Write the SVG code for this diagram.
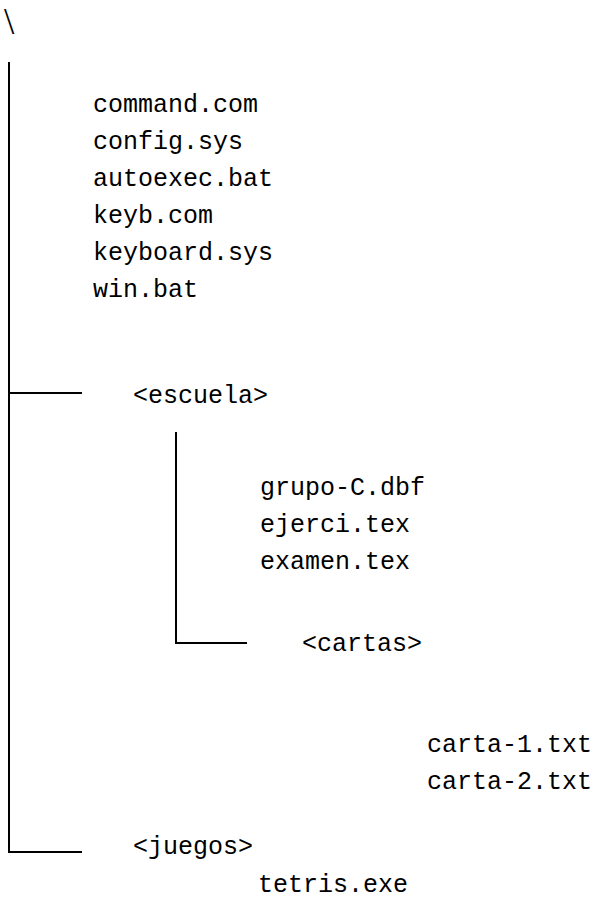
<svg xmlns="http://www.w3.org/2000/svg" width="596" height="905" viewBox="0 0 596 905">
  <style>
    .f { font-family: "Liberation Mono", "DejaVu Sans Mono", monospace; font-size: 25px; fill: #000; }
    .root { font-family: "Liberation Serif", "DejaVu Serif", serif; font-size: 37px; fill: #000; }
    .ln { stroke: #000; stroke-width: 2; fill: none; }
  </style>
  <rect width="596" height="905" fill="#fff"/>

  <!-- root directory -->
  <g id="root"><text class="root" x="4" y="34">\</text></g>

  <!-- tree branches -->
  <g id="connectors">
    <path class="ln" d="M9 62 V852 H82"/>
    <path class="ln" d="M9 393 H82"/>
    <path class="ln" d="M176 432 V643 H247"/>
  </g>

  <g id="root-files">
    <text class="f" x="93" y="112">command.com</text>
    <text class="f" x="93" y="149">config.sys</text>
    <text class="f" x="93" y="186">autoexec.bat</text>
    <text class="f" x="93" y="223">keyb.com</text>
    <text class="f" x="93" y="260">keyboard.sys</text>
    <text class="f" x="93" y="297">win.bat</text>
  </g>

  <g id="escuela"><text class="f" x="133" y="403">&lt;escuela&gt;</text></g>
  <g id="escuela-files">
    <text class="f" x="260" y="495">grupo-C.dbf</text>
    <text class="f" x="260" y="532">ejerci.tex</text>
    <text class="f" x="260" y="569">examen.tex</text>
  </g>

  <g id="cartas"><text class="f" x="302" y="651">&lt;cartas&gt;</text></g>
  <g id="cartas-files">
    <text class="f" x="427" y="752">carta-1.txt</text>
    <text class="f" x="427" y="789">carta-2.txt</text>
  </g>

  <g id="juegos"><text class="f" x="133" y="854">&lt;juegos&gt;</text></g>
  <g id="juegos-files">
    <text class="f" x="258" y="892">tetris.exe</text>
  </g>
</svg>
